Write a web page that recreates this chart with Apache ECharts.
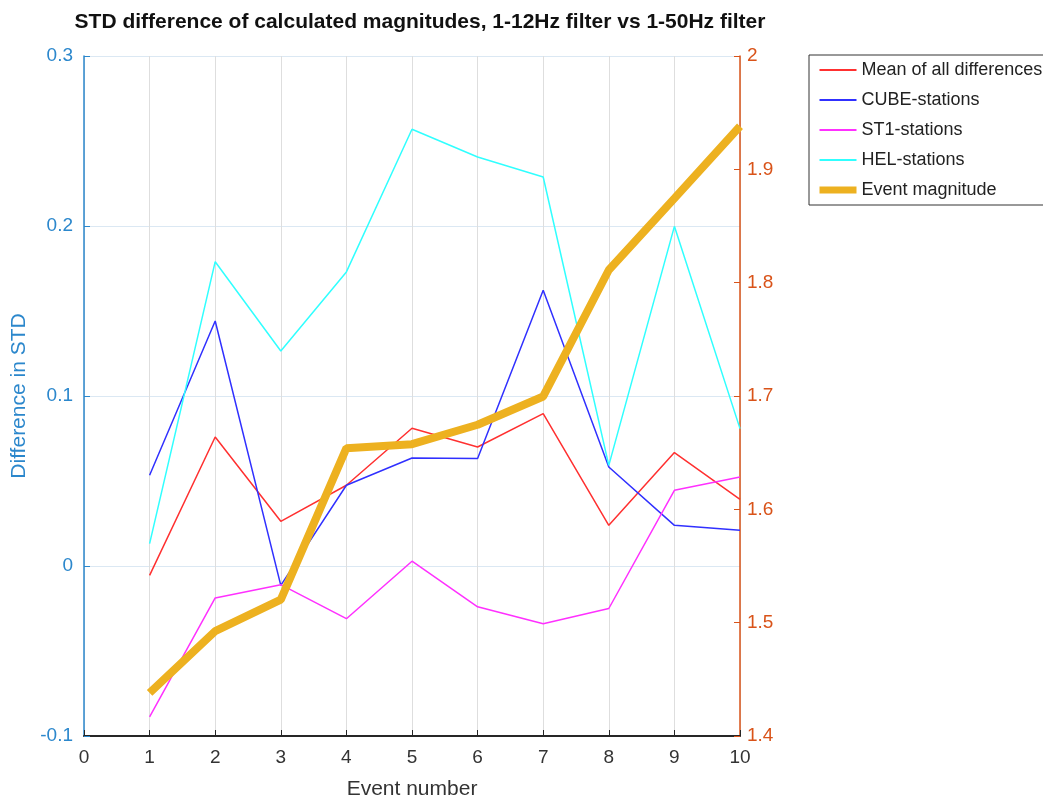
<!DOCTYPE html>
<html>
<head>
<meta charset="utf-8">
<script src="https://cdn.jsdelivr.net/npm/echarts@6/dist/echarts.min.js"></script>
<style>html,body{margin:0;padding:0;background:#fff}#c{width:1043px;height:800px}</style>
</head>
<body>
<div id="c"></div>
<script>
const events = [1, 2, 3, 4, 5, 6, 7, 8, 9, 10];
const meanAll = [-0.0055, 0.0759, 0.0263, 0.0475, 0.0810, 0.0700, 0.0896, 0.0239, 0.0667, 0.0392];
const cube = [0.0534, 0.1441, -0.0114, 0.0475, 0.0635, 0.0632, 0.1622, 0.0582, 0.0239, 0.0210];
const st1 = [-0.0888, -0.0188, -0.0110, -0.0310, 0.0028, -0.0240, -0.0340, -0.0250, 0.0445, 0.0524];
const hel = [0.0132, 0.1790, 0.1265, 0.1730, 0.2569, 0.2406, 0.2288, 0.0592, 0.1998, 0.0808];
const magnitude = [1.438, 1.4925, 1.5204, 1.654, 1.6575, 1.6746, 1.6996, 1.8112, 1.8744, 1.938];
const xTicks = [0, 1, 2, 3, 4, 5, 6, 7, 8, 9, 10];
const leftTicks = [-0.1, 0, 0.1, 0.2, 0.3];
const rightTicks = [1.4, 1.5, 1.6, 1.7, 1.8, 1.9, 2];

const pair = arr => events.map((e, i) => [e, arr[i]]);
const FONT = 'Liberation Sans';
const LEFTC = '#2b87cc';
const RIGHTC = '#d95319';

const chart = echarts.init(document.getElementById('c'));
chart.setOption({
  animation: false,
  textStyle: { fontFamily: FONT },
  title: {
    text: 'STD difference of calculated magnitudes, 1-12Hz filter vs 1-50Hz filter',
    left: 415, top: 7, textAlign: 'center',
    textStyle: { fontFamily: FONT, fontSize: 21, fontWeight: 'bold', color: '#111' }
  },
  legend: {
    orient: 'vertical', left: 809, top: 55,
    backgroundColor: '#fff', borderColor: '#333', borderWidth: 1,
    padding: [6, 7, 6, 7], itemGap: 12, itemWidth: 37, itemHeight: 18,
    itemStyle: { opacity: 0 },
    textStyle: { fontFamily: FONT, fontSize: 18, color: '#222' },
    data: [
      { name: 'Mean of all differences' },
      { name: 'CUBE-stations' },
      { name: 'ST1-stations' },
      { name: 'HEL-stations' },
      { name: 'Event magnitude', lineStyle: { width: 7 } }
    ]
  },
  grid: { left: 84, right: 303, top: 56, bottom: 64, outerBoundsMode: 'none', containLabel: false },
  xAxis: {
    type: 'value', min: 0, max: 10, interval: 1,
    name: 'Event number', nameLocation: 'middle', nameGap: 43,
    nameTextStyle: { fontFamily: FONT, fontSize: 21, color: '#333' },
    axisLine: { onZero: false, lineStyle: { color: '#262626', width: 2 } },
    axisTick: { inside: true, length: 6, lineStyle: { color: '#262626' } },
    axisLabel: { fontFamily: FONT, fontSize: 19, color: '#333', margin: 12 },
    splitLine: { show: true, lineStyle: { color: '#dedede', width: 1 } }
  },
  yAxis: [
    {
      type: 'value', min: -0.1, max: 0.3, interval: 0.1, position: 'left',
      name: 'Difference in STD', nameLocation: 'middle', nameGap: 53, nameRotate: 90,
      nameTextStyle: { fontFamily: FONT, fontSize: 21, color: LEFTC },
      axisLine: { show: true, lineStyle: { color: LEFTC, width: 1.5 } },
      axisTick: { show: true, inside: true, length: 6, lineStyle: { color: LEFTC } },
      axisLabel: { fontFamily: FONT, fontSize: 19, color: LEFTC, margin: 11,
        formatter: v => (Math.round(v * 10) / 10).toString() },
      splitLine: { show: true, lineStyle: { color: '#dbe8f3', width: 1 } }
    },
    {
      type: 'value', min: 1.4, max: 2, interval: 0.1, position: 'right',
      axisLine: { show: true, lineStyle: { color: RIGHTC, width: 1.5 } },
      axisTick: { show: true, inside: true, length: 6, lineStyle: { color: RIGHTC } },
      axisLabel: { fontFamily: FONT, fontSize: 19, color: RIGHTC, margin: 7,
        formatter: v => (Math.round(v * 10) / 10).toString() },
      splitLine: { show: false }
    }
  ],
  series: [
    { name: 'Mean of all differences', type: 'line', yAxisIndex: 0, data: pair(meanAll), symbol: 'none',
      lineStyle: { color: '#ff3030', width: 1.5 }, itemStyle: { color: '#ff3030' } },
    { name: 'CUBE-stations', type: 'line', yAxisIndex: 0, data: pair(cube), symbol: 'none',
      lineStyle: { color: '#3030ff', width: 1.5 }, itemStyle: { color: '#3030ff' } },
    { name: 'ST1-stations', type: 'line', yAxisIndex: 0, data: pair(st1), symbol: 'none',
      lineStyle: { color: '#ff30ff', width: 1.5 }, itemStyle: { color: '#ff30ff' } },
    { name: 'HEL-stations', type: 'line', yAxisIndex: 0, data: pair(hel), symbol: 'none',
      lineStyle: { color: '#30ffff', width: 1.5 }, itemStyle: { color: '#30ffff' } },
    { name: 'Event magnitude', type: 'line', yAxisIndex: 1, data: pair(magnitude), symbol: 'none',
      lineStyle: { color: '#EDB120', width: 8 }, itemStyle: { color: '#EDB120' } }
  ]
});
</script>
</body>
</html>
